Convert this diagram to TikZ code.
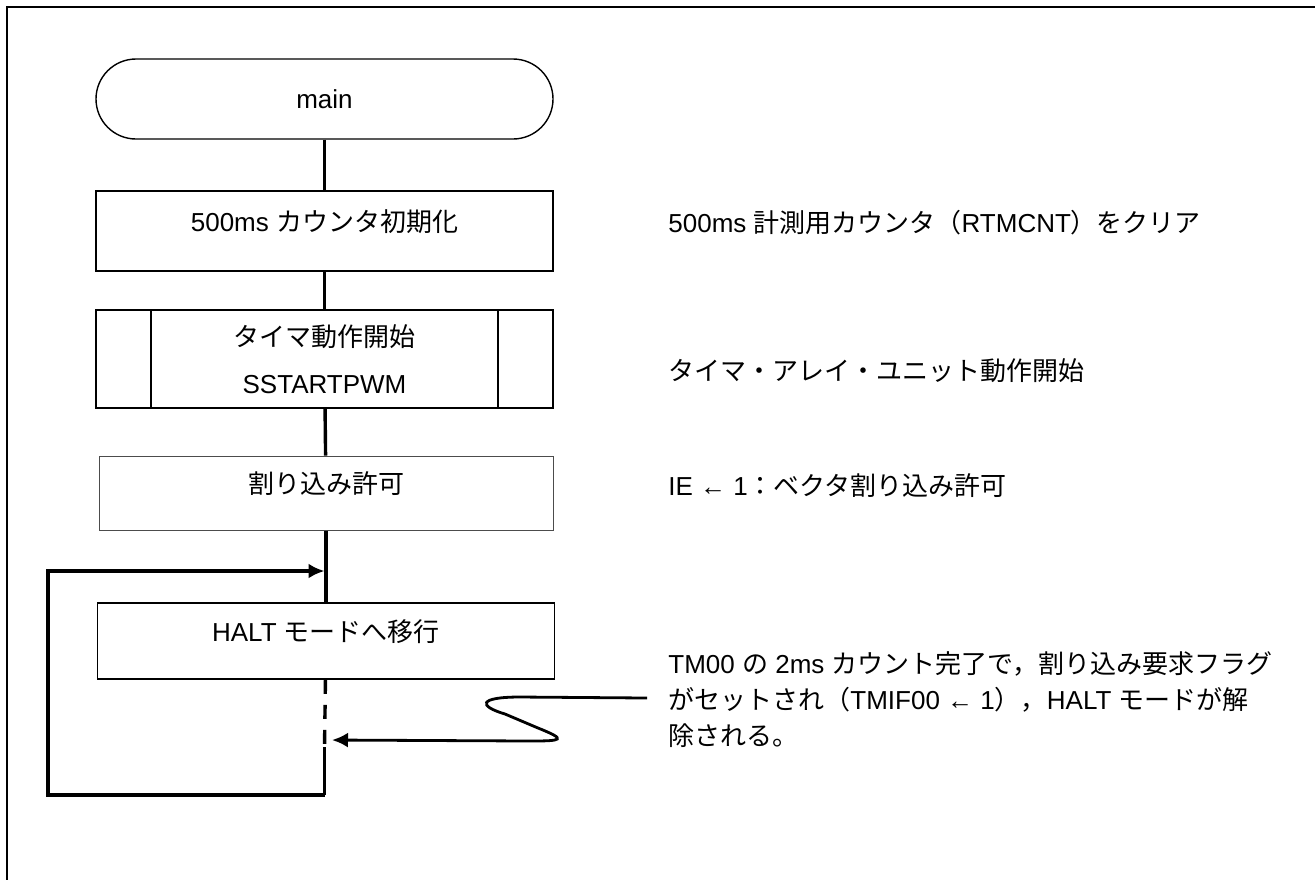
\documentclass[tikz,border=0pt]{standalone}
\usepackage{fontspec}
\setmainfont{Liberation Sans}
\newfontfamily\jpfont{Noto Sans CJK JP}
\newcommand{\jp}[1]{{\jpfont #1}}
\usetikzlibrary{arrows.meta,positioning}

\begin{document}
\begin{tikzpicture}[x=0.5pt,y=-0.5pt,node distance = 66pt,inner sep=0pt,
  font=\fontsize{13pt}{18pt}\selectfont,
  box/.style={draw,line width=0.9pt,minimum width=228.5pt,minimum height=40pt,text height=10pt,text depth=10pt},
  flow/.style={line width=1.7pt},
  >={Latex[length=8pt,width=7.5pt]}]
\useasboundingbox (0,0) rectangle (1315,880);
\draw[line width=1.3pt] (1315,7) -- (7,7) -- (7,880);

\node[draw,line width=0.7pt,rounded corners=20pt,minimum width=228.5pt,minimum height=40pt] (M) at (324.5,99) {main};
\node[box] (I) [below of = M] {500ms \jp{カウンタ初期化}};
\node[box,minimum height=49pt,text height=,text depth=,align=center,font=\fontsize{13pt}{23.5pt}\selectfont,node distance = 64pt] (S) [below of = I] {\jp{タイマ動作開始}\\SSTARTPWM};
\draw[line width=0.9pt] ([xshift=28pt]S.north west) -- ([xshift=28pt]S.south west);
\draw[line width=0.9pt] ([xshift=-28pt]S.north east) -- ([xshift=-28pt]S.south east);
\node[box,draw=black!70,line width=0.5pt,minimum width=227pt,minimum height=37pt,xshift=0.75pt,node distance = 67pt] (E) [below of = S] {\jp{割り込み許可}};
\node[box,minimum height=38pt,node distance = 74pt] (H) [below of = E] {HALT \jp{モードへ移行}};

\path (M) edge [flow] (I);
\path (I) edge [flow] (S);
\path (S) edge [flow] (E);
\path (E) edge [flow] (H);

\coordinate (J) at (324.5,571);
\coordinate (L1) at (48,571);
\coordinate (L2) at (48,795);
\coordinate (B) at (324.5,795);
\coordinate (D) at (324.5,747);
\draw[flow,->] (B) -- (L2) -- (L1) -- (J);
\draw[flow] (D) -- (B);
\draw[flow,dash pattern=on 7pt off 5.5pt] (H) -- (D);

\coordinate (W) at (647,698);
\coordinate (T) at (332,740);
\draw[line width=1.4pt,->] (W) -- (520,697) .. controls (478,697) and (478,706) .. (505,714) -- (538,728) .. controls (568,740) and (562,741) .. (530,741) -- (T);

\node[anchor=base west] (n1) at (668,232) {500ms \jp{計測用カウンタ（}RTMCNT\jp{）をクリア}};
\node[anchor=base west] (n2) at (668,380) {\jp{タイマ・アレイ・ユニット動作開始}};
\node[anchor=base west] (n3) at (668,495) {IE ← 1\jp{：ベクタ割り込み許可}};
\node[anchor=north west,align=left] (n4) at (668,651) {TM00 \jp{の} 2ms \jp{カウント完了で，割り込み要求フラグ}\\\jp{がセットされ（}TMIF00 ← 1\jp{），}HALT \jp{モードが解}\\\jp{除される。}};

\end{tikzpicture}
\end{document}
